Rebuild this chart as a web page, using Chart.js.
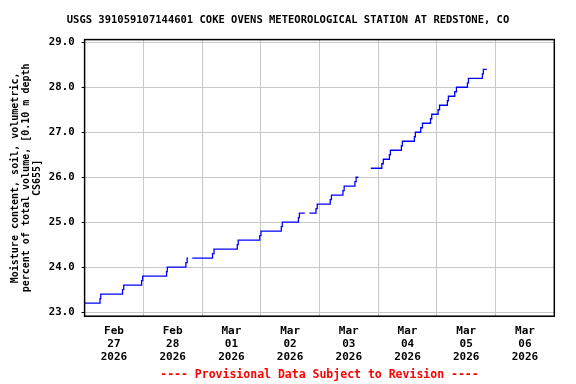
<!DOCTYPE html>
<html>
<head>
<meta charset="utf-8">
<script src="https://cdn.jsdelivr.net/npm/chart.js@4/dist/chart.umd.min.js"></script>
<style>
  html, body { margin: 0; padding: 0; background: #fff; }
  #wrap { width: 576px; height: 384px; }
</style>
</head>
<body>
<div id="wrap"><canvas id="chart" width="576" height="384"></canvas></div>
<script>
// hours since Feb 27 2026 00:00 where the reading changes (null = gap in record)
const hours = [
  0, 6.3, 6.6, 15.5, 16.0, 23.3, 23.75, 33.5, 33.8, 41.4, 41.9, 42.3, 43,
  44.0, 52.3, 52.9, 62.4, 62.8, 71.6, 72.1, 80.4, 80.8, 87.4, 87.8, 90.0, 91,
  91.9, 94.6, 95.1, 100.4, 100.9, 105.6, 106.1, 110.5, 111.0, 111.9, 114,
  117.0, 121.5, 122.1, 124.6, 125.0, 129.5, 129.9, 134.8, 135.2, 137.4, 138.1,
  141.4, 141.9, 144.5, 145.1, 148.3, 148.7, 151.3, 152.0, 156.5, 156.9,
  162.6, 163.0, 164.4
];
const moisture = [
  23.2, 23.3, 23.4, 23.5, 23.6, 23.7, 23.8, 23.9, 24.0, 24.1, 24.2, 24.2, null,
  24.2, 24.3, 24.4, 24.5, 24.6, 24.7, 24.8, 24.9, 25.0, 25.1, 25.2, 25.2, null,
  25.2, 25.3, 25.4, 25.5, 25.6, 25.7, 25.8, 25.9, 26.0, 26.0, null,
  26.2, 26.3, 26.4, 26.5, 26.6, 26.7, 26.8, 26.9, 27.0, 27.1, 27.2,
  27.3, 27.4, 27.5, 27.6, 27.7, 27.8, 27.9, 28.0, 28.1, 28.2,
  28.3, 28.4, 28.4
];

const dayMonths = ['Feb', 'Feb', 'Mar', 'Mar', 'Mar', 'Mar', 'Mar', 'Mar'];
const dayNums = ['27', '28', '01', '02', '03', '04', '05', '06'];
const dayYear = '2026';
const yTicks = [23, 24, 25, 26, 27, 28, 29];

const FONT = '"DejaVu Sans Mono", "Liberation Mono", monospace';

const framePlugin = {
  id: 'frame',
  afterDraw(chart) {
    const { ctx, chartArea: a } = chart;
    ctx.save();
    ctx.strokeStyle = '#000';
    ctx.lineWidth = 1.5;
    ctx.strokeRect(a.left, a.top, a.right - a.left, a.bottom - a.top);
    ctx.restore();
  }
};

new Chart(document.getElementById('chart'), {
  type: 'line',
  data: {
    datasets: [{
      data: hours.map((h, i) => ({ x: h, y: moisture[i] })),
      borderColor: '#0000ff',
      borderWidth: 1.3,
      pointRadius: 0,
      stepped: true,
      spanGaps: false,
      fill: false
    }]
  },
  options: {
    responsive: false,
    animation: false,
    devicePixelRatio: 1,
    layout: { padding: 0 },
    plugins: {
      legend: { display: false },
      tooltip: { enabled: false },
      title: {
        display: true,
        text: 'USGS 391059107144601 COKE OVENS METEOROLOGICAL STATION AT REDSTONE, CO',
        color: '#000',
        font: { family: FONT, size: 10.5, weight: 'bold', lineHeight: 1.2 },
        padding: { top: 14, bottom: 13 }
      },
      subtitle: {
        display: true,
        position: 'bottom',
        fullSize: false,
        text: '---- Provisional Data Subject to Revision ----',
        color: '#ff0000',
        font: { family: FONT, size: 11.5, weight: 'bold', lineHeight: 1.2 },
        padding: { top: 0, bottom: 2 }
      }
    },
    scales: {
      x: {
        type: 'linear',
        min: 0,
        max: 192,
        afterFit(scale) { scale.height = 52; },
        border: { color: '#000', width: 1 },
        grid: {
          drawTicks: false,
          color: (c) => (c.tick && c.tick.value % 24 === 0) ? '#c8c8c8' : 'rgba(0,0,0,0)'
        },
        ticks: {
          stepSize: 12,
          autoSkip: false,
          maxRotation: 0,
          padding: 8,
          color: '#000',
          font: { family: FONT, size: 11, weight: 'bold', lineHeight: '13px' },
          callback: (v) => {
            if (v % 24 !== 12) return '';
            const i = (v - 12) / 24;
            return [dayMonths[i], dayNums[i], dayYear];
          }
        }
      },
      y: {
        min: 22.91,
        max: 29.06,
        afterFit(scale) { scale.width = 84.6; },
        afterBuildTicks(scale) { scale.ticks = yTicks.map(v => ({ value: v })); },
        border: { color: '#000', width: 1 },
        grid: { color: '#c8c8c8', tickColor: '#000', tickLength: 3 },
        ticks: {
          padding: 7,
          color: '#000',
          font: { family: FONT, size: 10.7, weight: 'bold' },
          callback: (v) => Number(v).toFixed(1)
        },
        title: {
          display: true,
          text: ['Moisture content, soil, volumetric,', 'percent of total volume, [0.10 m depth', 'CS655]'],
          color: '#000',
          font: { family: FONT, size: 10, weight: 'bold', lineHeight: '11px' },
          padding: { top: 9.5, bottom: 0 }
        }
      },
      // empty right-hand axis, only reserves the margin right of the frame
      yRight: {
        position: 'right',
        display: true,
        afterFit(scale) { scale.width = 21.7; },
        border: { display: false },
        grid: { display: false, drawOnChartArea: false },
        ticks: { display: false }
      }
    }
  },
  plugins: [framePlugin]
});
</script>
</body>
</html>
